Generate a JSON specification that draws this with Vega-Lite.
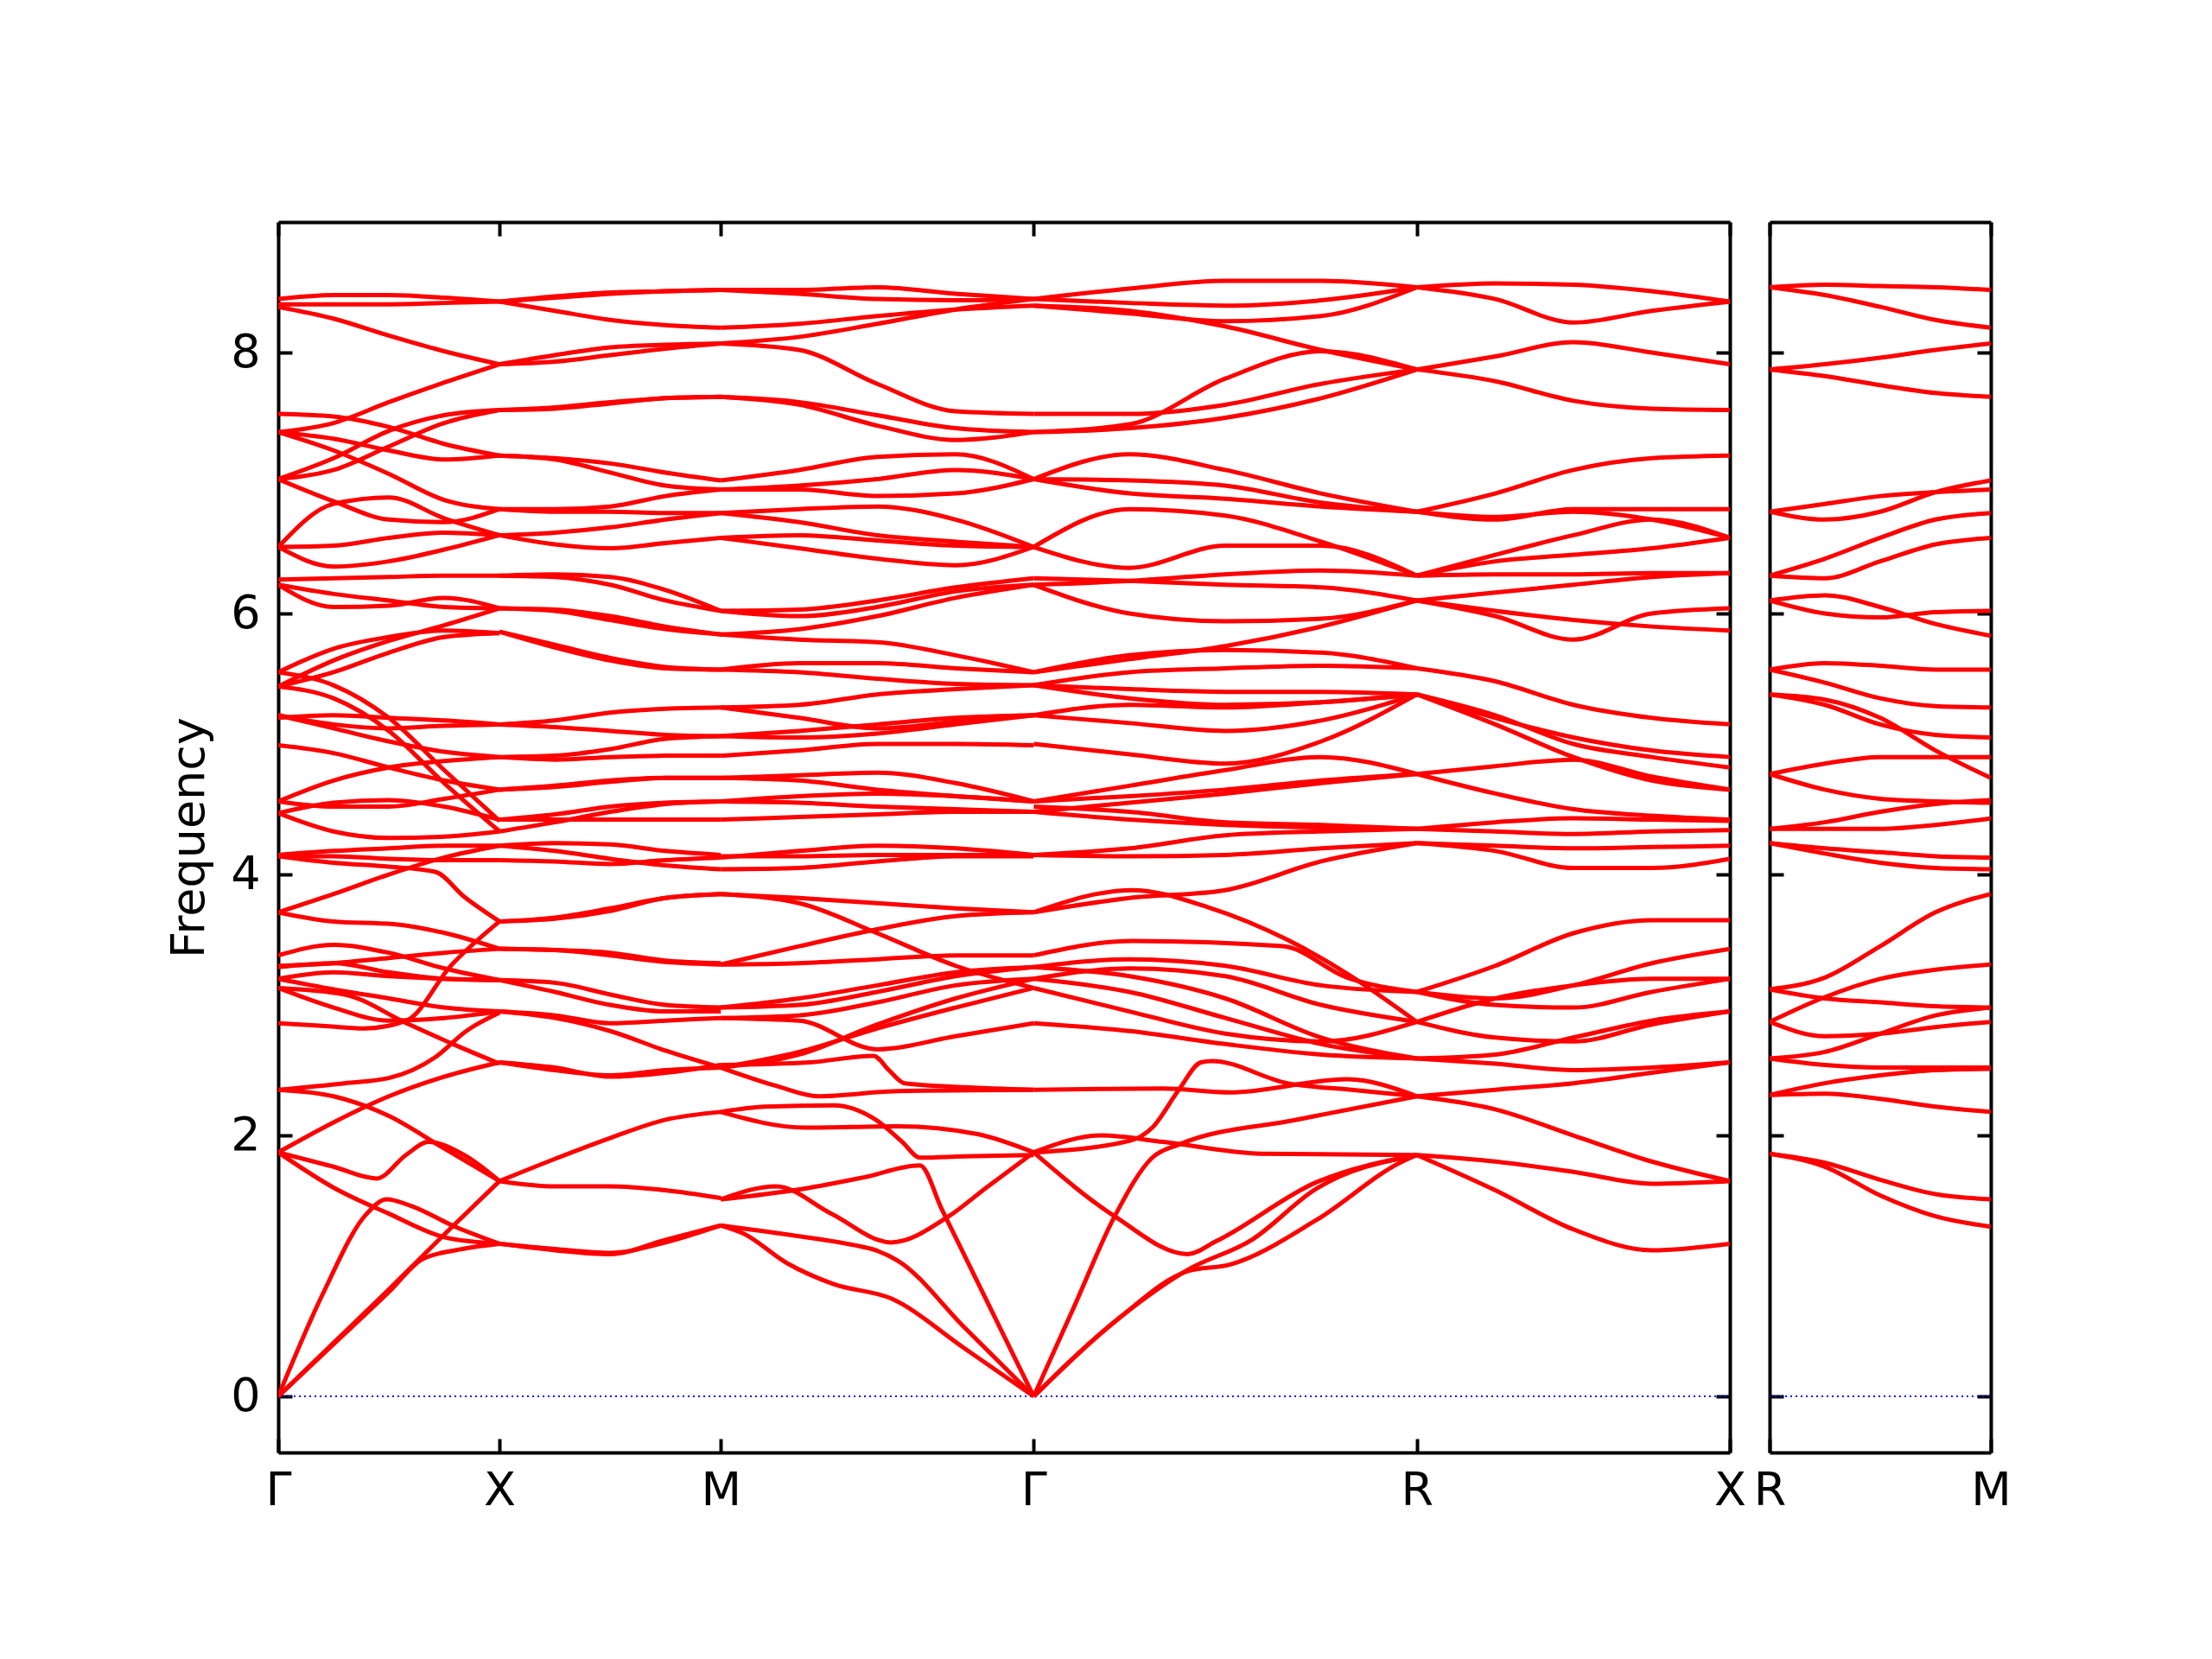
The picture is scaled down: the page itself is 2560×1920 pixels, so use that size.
{
"$schema":"https://vega.github.io/schema/vega-lite/v6.json",
"padding":{"left":192,"top":255,"right":10,"bottom":10},
"background":"white",
"bounds":"flush",
"spacing":46,
"config":{"font":"DejaVu Sans","view":{"stroke":null},
 "axis":{"grid":false,"domainColor":"black","domainWidth":4,"tickColor":"black","tickWidth":4,"tickSize":-16,"labelFontSize":54,"labelColor":"black","labelFont":"DejaVu Sans","labelFlush":false,"labelOverlap":false,"labelBound":false,"titleFont":"DejaVu Sans","titleFontSize":54,"titleFontWeight":"normal","titleColor":"black"}},
"datasets":{
"main":[
{"s":"A1","x":0,"y":8.41},{"s":"A1","x":0.25,"y":8.44},{"s":"A1","x":0.5,"y":8.44},{"s":"A1","x":0.75,"y":8.42},{"s":"A1","x":1,"y":8.39},
{"s":"A2","x":0,"y":8.37},{"s":"A2","x":0.25,"y":8.37},{"s":"A2","x":0.5,"y":8.37},{"s":"A2","x":0.75,"y":8.38},{"s":"A2","x":1,"y":8.39},
{"s":"A3","x":0,"y":8.35},{"s":"A3","x":0.25,"y":8.26},{"s":"A3","x":0.5,"y":8.13},{"s":"A3","x":0.75,"y":8.01},{"s":"A3","x":1,"y":7.91},
{"s":"A4","x":0,"y":7.53},{"s":"A4","x":0.25,"y":7.51},{"s":"A4","x":0.5,"y":7.43},{"s":"A4","x":0.75,"y":7.30},{"s":"A4","x":1,"y":7.21},
{"s":"A5","x":0,"y":7.39},{"s":"A5","x":0.25,"y":7.46},{"s":"A5","x":0.5,"y":7.62},{"s":"A5","x":0.75,"y":7.77},{"s":"A5","x":1,"y":7.91},
{"s":"A6","x":0,"y":7.39},{"s":"A6","x":0.25,"y":7.34},{"s":"A6","x":0.5,"y":7.25},{"s":"A6","x":0.75,"y":7.18},{"s":"A6","x":1,"y":7.21},
{"s":"A7","x":0,"y":7.03},{"s":"A7","x":0.25,"y":7.19},{"s":"A7","x":0.5,"y":7.40},{"s":"A7","x":0.75,"y":7.52},{"s":"A7","x":1,"y":7.56},
{"s":"A8","x":0,"y":7.03},{"s":"A8","x":0.25,"y":7.10},{"s":"A8","x":0.5,"y":7.28},{"s":"A8","x":0.75,"y":7.46},{"s":"A8","x":1,"y":7.56},
{"s":"A9","x":0,"y":7.39},{"s":"A9","x":0.25,"y":7.25},{"s":"A9","x":0.5,"y":7.07},{"s":"A9","x":0.75,"y":6.87},{"s":"A9","x":1,"y":6.80},
{"s":"A10","x":0,"y":7.03},{"s":"A10","x":0.25,"y":6.86},{"s":"A10","x":0.5,"y":6.72},{"s":"A10","x":0.75,"y":6.70},{"s":"A10","x":1,"y":6.80},
{"s":"A11","x":0,"y":6.51},{"s":"A11","x":0.25,"y":6.84},{"s":"A11","x":0.5,"y":6.89},{"s":"A11","x":0.75,"y":6.73},{"s":"A11","x":1,"y":6.60},
{"s":"A12","x":0,"y":6.51},{"s":"A12","x":0.25,"y":6.52},{"s":"A12","x":0.5,"y":6.58},{"s":"A12","x":0.75,"y":6.62},{"s":"A12","x":1,"y":6.60},
{"s":"A13","x":0,"y":6.51},{"s":"A13","x":0.25,"y":6.36},{"s":"A13","x":0.5,"y":6.40},{"s":"A13","x":0.75,"y":6.49},{"s":"A13","x":1,"y":6.60},
{"s":"A14","x":0,"y":6.26},{"s":"A14","x":0.25,"y":6.27},{"s":"A14","x":0.5,"y":6.28},{"s":"A14","x":0.75,"y":6.29},{"s":"A14","x":1,"y":6.29},
{"s":"A15","x":0,"y":6.22},{"s":"A15","x":0.25,"y":6.05},{"s":"A15","x":0.5,"y":6.06},{"s":"A15","x":0.75,"y":6.12},{"s":"A15","x":1,"y":6.04},
{"s":"A16","x":0,"y":6.22},{"s":"A16","x":0.25,"y":6.15},{"s":"A16","x":0.5,"y":6.10},{"s":"A16","x":0.75,"y":6.05},{"s":"A16","x":1,"y":6.04},
{"s":"A17","x":0,"y":5.55},{"s":"A17","x":0.25,"y":5.73},{"s":"A17","x":0.5,"y":5.82},{"s":"A17","x":0.75,"y":5.87},{"s":"A17","x":1,"y":5.85},
{"s":"A18","x":0,"y":5.44},{"s":"A18","x":0.25,"y":5.64},{"s":"A18","x":0.5,"y":5.79},{"s":"A18","x":0.75,"y":5.91},{"s":"A18","x":1,"y":6.04},
{"s":"A19","x":0,"y":5.44},{"s":"A19","x":0.25,"y":5.55},{"s":"A19","x":0.5,"y":5.70},{"s":"A19","x":0.75,"y":5.82},{"s":"A19","x":1,"y":5.85},
{"s":"A20","x":0,"y":5.55},{"s":"A20","x":0.25,"y":5.45},{"s":"A20","x":0.5,"y":5.20},{"s":"A20","x":0.75,"y":4.80},{"s":"A20","x":1,"y":4.41},
{"s":"A21","x":0,"y":5.44},{"s":"A21","x":0.25,"y":5.35},{"s":"A21","x":0.5,"y":5.10},{"s":"A21","x":0.75,"y":4.70},{"s":"A21","x":1,"y":4.33},
{"s":"A22","x":0,"y":5.20},{"s":"A22","x":0.25,"y":5.22},{"s":"A22","x":0.5,"y":5.20},{"s":"A22","x":0.75,"y":5.18},{"s":"A22","x":1,"y":5.15},
{"s":"A23","x":0,"y":5.22},{"s":"A23","x":0.25,"y":5.15},{"s":"A23","x":0.5,"y":5.12},{"s":"A23","x":0.75,"y":5.14},{"s":"A23","x":1,"y":5.15},
{"s":"A24","x":0,"y":5.22},{"s":"A24","x":0.25,"y":5.12},{"s":"A24","x":0.5,"y":5.02},{"s":"A24","x":0.75,"y":4.94},{"s":"A24","x":1,"y":4.90},
{"s":"A25","x":0,"y":4.99},{"s":"A25","x":0.25,"y":4.93},{"s":"A25","x":0.5,"y":4.82},{"s":"A25","x":0.75,"y":4.72},{"s":"A25","x":1,"y":4.65},
{"s":"A26","x":0,"y":4.56},{"s":"A26","x":0.25,"y":4.72},{"s":"A26","x":0.5,"y":4.82},{"s":"A26","x":0.75,"y":4.87},{"s":"A26","x":1,"y":4.90},
{"s":"A27","x":0,"y":4.56},{"s":"A27","x":0.25,"y":4.52},{"s":"A27","x":0.5,"y":4.52},{"s":"A27","x":0.75,"y":4.58},{"s":"A27","x":1,"y":4.65},
{"s":"A28","x":0,"y":4.47},{"s":"A28","x":0.25,"y":4.55},{"s":"A28","x":0.5,"y":4.57},{"s":"A28","x":0.75,"y":4.52},{"s":"A28","x":1,"y":4.42},
{"s":"A29","x":0,"y":4.47},{"s":"A29","x":0.25,"y":4.33},{"s":"A29","x":0.5,"y":4.28},{"s":"A29","x":0.75,"y":4.29},{"s":"A29","x":1,"y":4.33},
{"s":"A30","x":0,"y":4.15},{"s":"A30","x":0.25,"y":4.18},{"s":"A30","x":0.5,"y":4.20},{"s":"A30","x":0.75,"y":4.22},{"s":"A30","x":1,"y":4.22},
{"s":"A31","x":0,"y":4.14},{"s":"A31","x":0.25,"y":4.14},{"s":"A31","x":0.5,"y":4.12},{"s":"A31","x":0.75,"y":4.11},{"s":"A31","x":1,"y":4.11},
{"s":"A32","x":0,"y":4.14},{"s":"A32","x":0.25,"y":4.09},{"s":"A32","x":0.5,"y":4.06},{"s":"A32","x":0.71,"y":4.02},{"s":"A32","x":0.84,"y":3.83},{"s":"A32","x":1,"y":3.64},
{"s":"A33","x":0,"y":3.71},{"s":"A33","x":0.25,"y":3.85},{"s":"A33","x":0.5,"y":4.00},{"s":"A33","x":0.75,"y":4.13},{"s":"A33","x":1,"y":4.22},
{"s":"A34","x":0,"y":3.71},{"s":"A34","x":0.25,"y":3.64},{"s":"A34","x":0.52,"y":3.62},{"s":"A34","x":0.78,"y":3.54},{"s":"A34","x":1,"y":3.43},
{"s":"A35","x":0,"y":2.86},{"s":"A35","x":0.2,"y":2.84},{"s":"A35","x":0.39,"y":2.82},{"s":"A35","x":0.58,"y":2.88},{"s":"A35","x":0.78,"y":3.30},{"s":"A35","x":1,"y":3.64},
{"s":"A36","x":0,"y":3.38},{"s":"A36","x":0.25,"y":3.46},{"s":"A36","x":0.5,"y":3.40},{"s":"A36","x":0.75,"y":3.28},{"s":"A36","x":1,"y":3.19},
{"s":"A37","x":0,"y":3.29},{"s":"A37","x":0.25,"y":3.32},{"s":"A37","x":0.5,"y":3.25},{"s":"A37","x":0.75,"y":3.20},{"s":"A37","x":1,"y":3.19},
{"s":"A38","x":0,"y":3.20},{"s":"A38","x":0.25,"y":3.12},{"s":"A38","x":0.5,"y":3.05},{"s":"A38","x":0.75,"y":2.98},{"s":"A38","x":1,"y":2.95},
{"s":"A39","x":0,"y":3.13},{"s":"A39","x":0.25,"y":2.98},{"s":"A39","x":0.5,"y":2.88},{"s":"A39","x":0.75,"y":2.90},{"s":"A39","x":1,"y":2.95},
{"s":"A40","x":0,"y":3.20},{"s":"A40","x":0.25,"y":3.25},{"s":"A40","x":0.5,"y":3.22},{"s":"A40","x":0.75,"y":3.20},{"s":"A40","x":1,"y":3.19},
{"s":"A41","x":0,"y":3.30},{"s":"A41","x":0.25,"y":3.32},{"s":"A41","x":0.5,"y":3.36},{"s":"A41","x":0.75,"y":3.40},{"s":"A41","x":1,"y":3.43},
{"s":"A42","x":0,"y":2.35},{"s":"A42","x":0.3,"y":2.40},{"s":"A42","x":0.5,"y":2.44},{"s":"A42","x":0.71,"y":2.60},{"s":"A42","x":0.85,"y":2.80},{"s":"A42","x":1,"y":2.94},
{"s":"A43","x":0,"y":2.35},{"s":"A43","x":0.25,"y":2.30},{"s":"A43","x":0.5,"y":2.15},{"s":"A43","x":0.75,"y":1.90},{"s":"A43","x":1,"y":1.65},
{"s":"A44","x":0,"y":1.87},{"s":"A44","x":0.25,"y":2.10},{"s":"A44","x":0.5,"y":2.30},{"s":"A44","x":0.75,"y":2.45},{"s":"A44","x":1,"y":2.56},
{"s":"A45","x":0,"y":1.87},{"s":"A45","x":0.25,"y":1.76},{"s":"A45","x":0.445,"y":1.67},{"s":"A45","x":0.577,"y":1.85},{"s":"A45","x":0.68,"y":1.95},{"s":"A45","x":0.84,"y":1.85},{"s":"A45","x":1,"y":1.65},
{"s":"A46","x":0,"y":1.87},{"s":"A46","x":0.25,"y":1.60},{"s":"A46","x":0.5,"y":1.40},{"s":"A46","x":0.75,"y":1.22},{"s":"A46","x":1,"y":1.17},
{"s":"A47","x":0,"y":0},{"s":"A47","x":0.2,"y":0.78},{"s":"A47","x":0.4,"y":1.40},{"s":"A47","x":0.49,"y":1.51},{"s":"A47","x":0.6,"y":1.46},{"s":"A47","x":0.8,"y":1.30},{"s":"A47","x":1,"y":1.17},
{"s":"A48","x":0,"y":0},{"s":"A48","x":0.25,"y":0.41},{"s":"A48","x":0.5,"y":0.82},{"s":"A48","x":0.75,"y":1.24},{"s":"A48","x":1,"y":1.65},
{"s":"A49","x":0,"y":0},{"s":"A49","x":0.25,"y":0.40},{"s":"A49","x":0.5,"y":0.80},{"s":"A49","x":0.65,"y":1.05},{"s":"A49","x":0.8,"y":1.12},{"s":"A49","x":1,"y":1.17},
{"s":"A50","x":0,"y":3.13},{"s":"A50","x":0.3,"y":3.08},{"s":"A50","x":0.58,"y":2.86},{"s":"A50","x":0.79,"y":2.70},{"s":"A50","x":1,"y":2.55},
{"s":"B1","x":1,"y":8.39},{"s":"B1","x":1.25,"y":8.43},{"s":"B1","x":1.5,"y":8.46},{"s":"B1","x":1.75,"y":8.47},{"s":"B1","x":2,"y":8.48},
{"s":"B2","x":1,"y":8.39},{"s":"B2","x":1.25,"y":8.42},{"s":"B2","x":1.5,"y":8.45},{"s":"B2","x":1.75,"y":8.47},{"s":"B2","x":2,"y":8.48},
{"s":"B3","x":1,"y":8.39},{"s":"B3","x":1.25,"y":8.32},{"s":"B3","x":1.5,"y":8.25},{"s":"B3","x":1.75,"y":8.21},{"s":"B3","x":2,"y":8.19},
{"s":"B4","x":1,"y":7.91},{"s":"B4","x":1.25,"y":7.98},{"s":"B4","x":1.5,"y":8.04},{"s":"B4","x":1.75,"y":8.06},{"s":"B4","x":2,"y":8.07},
{"s":"B5","x":1,"y":7.91},{"s":"B5","x":1.25,"y":7.93},{"s":"B5","x":1.5,"y":7.98},{"s":"B5","x":1.75,"y":8.03},{"s":"B5","x":2,"y":8.07},
{"s":"B6","x":1,"y":7.56},{"s":"B6","x":1.25,"y":7.57},{"s":"B6","x":1.5,"y":7.61},{"s":"B6","x":1.75,"y":7.65},{"s":"B6","x":2,"y":7.66},
{"s":"B7","x":1,"y":7.56},{"s":"B7","x":1.25,"y":7.58},{"s":"B7","x":1.5,"y":7.62},{"s":"B7","x":1.75,"y":7.65},{"s":"B7","x":2,"y":7.66},
{"s":"B8","x":1,"y":7.21},{"s":"B8","x":1.25,"y":7.19},{"s":"B8","x":1.5,"y":7.15},{"s":"B8","x":1.75,"y":7.08},{"s":"B8","x":2,"y":7.02},
{"s":"B9","x":1,"y":7.21},{"s":"B9","x":1.25,"y":7.18},{"s":"B9","x":1.5,"y":7.08},{"s":"B9","x":1.75,"y":6.98},{"s":"B9","x":2,"y":6.95},
{"s":"B10","x":1,"y":6.80},{"s":"B10","x":1.25,"y":6.80},{"s":"B10","x":1.5,"y":6.82},{"s":"B10","x":1.75,"y":6.90},{"s":"B10","x":2,"y":6.95},
{"s":"B11","x":1,"y":6.80},{"s":"B11","x":1.25,"y":6.78},{"s":"B11","x":1.5,"y":6.78},{"s":"B11","x":1.75,"y":6.77},{"s":"B11","x":2,"y":6.77},
{"s":"B12","x":1,"y":6.60},{"s":"B12","x":1.25,"y":6.53},{"s":"B12","x":1.5,"y":6.50},{"s":"B12","x":1.75,"y":6.54},{"s":"B12","x":2,"y":6.58},
{"s":"B13","x":1,"y":6.60},{"s":"B13","x":1.25,"y":6.62},{"s":"B13","x":1.5,"y":6.66},{"s":"B13","x":1.75,"y":6.72},{"s":"B13","x":2,"y":6.77},
{"s":"B14","x":1,"y":6.29},{"s":"B14","x":1.25,"y":6.28},{"s":"B14","x":1.5,"y":6.22},{"s":"B14","x":1.75,"y":6.10},{"s":"B14","x":2,"y":6.02},
{"s":"B15","x":1,"y":6.29},{"s":"B15","x":1.25,"y":6.30},{"s":"B15","x":1.5,"y":6.28},{"s":"B15","x":1.75,"y":6.18},{"s":"B15","x":2,"y":6.02},
{"s":"B16","x":1,"y":6.04},{"s":"B16","x":1.25,"y":6.02},{"s":"B16","x":1.5,"y":5.95},{"s":"B16","x":1.75,"y":5.88},{"s":"B16","x":2,"y":5.84},
{"s":"B17","x":1,"y":6.04},{"s":"B17","x":1.25,"y":6.03},{"s":"B17","x":1.5,"y":5.98},{"s":"B17","x":1.75,"y":5.90},{"s":"B17","x":2,"y":5.84},
{"s":"B18","x":1,"y":5.86},{"s":"B18","x":1.25,"y":5.76},{"s":"B18","x":1.5,"y":5.66},{"s":"B18","x":1.75,"y":5.59},{"s":"B18","x":2,"y":5.57},
{"s":"B19","x":1,"y":5.86},{"s":"B19","x":1.25,"y":5.74},{"s":"B19","x":1.5,"y":5.64},{"s":"B19","x":1.75,"y":5.58},{"s":"B19","x":2,"y":5.57},
{"s":"B20","x":1,"y":5.15},{"s":"B20","x":1.25,"y":5.18},{"s":"B20","x":1.5,"y":5.24},{"s":"B20","x":1.75,"y":5.27},{"s":"B20","x":2,"y":5.28},
{"s":"B21","x":1,"y":5.15},{"s":"B21","x":1.25,"y":5.13},{"s":"B21","x":1.5,"y":5.10},{"s":"B21","x":1.75,"y":5.07},{"s":"B21","x":2,"y":5.06},
{"s":"B22","x":1,"y":4.90},{"s":"B22","x":1.25,"y":4.91},{"s":"B22","x":1.5,"y":4.96},{"s":"B22","x":1.75,"y":5.04},{"s":"B22","x":2,"y":5.06},
{"s":"B23","x":1,"y":4.90},{"s":"B23","x":1.25,"y":4.88},{"s":"B23","x":1.5,"y":4.90},{"s":"B23","x":1.75,"y":4.91},{"s":"B23","x":2,"y":4.91},
{"s":"B24","x":1,"y":4.65},{"s":"B24","x":1.25,"y":4.67},{"s":"B24","x":1.5,"y":4.71},{"s":"B24","x":1.75,"y":4.74},{"s":"B24","x":2,"y":4.74},
{"s":"B25","x":1,"y":4.65},{"s":"B25","x":1.25,"y":4.68},{"s":"B25","x":1.5,"y":4.72},{"s":"B25","x":1.75,"y":4.74},{"s":"B25","x":2,"y":4.74},
{"s":"B26","x":1,"y":4.42},{"s":"B26","x":1.25,"y":4.46},{"s":"B26","x":1.5,"y":4.52},{"s":"B26","x":1.75,"y":4.55},{"s":"B26","x":2,"y":4.56},
{"s":"B27","x":1,"y":4.33},{"s":"B27","x":1.25,"y":4.40},{"s":"B27","x":1.5,"y":4.48},{"s":"B27","x":1.75,"y":4.54},{"s":"B27","x":2,"y":4.56},
{"s":"B28","x":1,"y":4.42},{"s":"B28","x":1.25,"y":4.42},{"s":"B28","x":1.5,"y":4.42},{"s":"B28","x":1.75,"y":4.42},{"s":"B28","x":2,"y":4.42},
{"s":"B29","x":1,"y":4.22},{"s":"B29","x":1.25,"y":4.24},{"s":"B29","x":1.5,"y":4.23},{"s":"B29","x":1.75,"y":4.18},{"s":"B29","x":2,"y":4.15},
{"s":"B30","x":1,"y":4.11},{"s":"B30","x":1.25,"y":4.10},{"s":"B30","x":1.5,"y":4.08},{"s":"B30","x":1.75,"y":4.11},{"s":"B30","x":2,"y":4.13},
{"s":"B31","x":1,"y":4.22},{"s":"B31","x":1.25,"y":4.18},{"s":"B31","x":1.5,"y":4.12},{"s":"B31","x":1.75,"y":4.07},{"s":"B31","x":2,"y":4.04},
{"s":"B32","x":1,"y":3.64},{"s":"B32","x":1.25,"y":3.66},{"s":"B32","x":1.5,"y":3.72},{"s":"B32","x":1.75,"y":3.82},{"s":"B32","x":2,"y":3.85},
{"s":"B33","x":1,"y":3.64},{"s":"B33","x":1.25,"y":3.67},{"s":"B33","x":1.5,"y":3.74},{"s":"B33","x":1.75,"y":3.82},{"s":"B33","x":2,"y":3.85},
{"s":"B34","x":1,"y":3.43},{"s":"B34","x":1.25,"y":3.42},{"s":"B34","x":1.5,"y":3.40},{"s":"B34","x":1.75,"y":3.34},{"s":"B34","x":2,"y":3.32},
{"s":"B35","x":1,"y":3.43},{"s":"B35","x":1.25,"y":3.42},{"s":"B35","x":1.5,"y":3.38},{"s":"B35","x":1.75,"y":3.33},{"s":"B35","x":2,"y":3.31},
{"s":"B36","x":1,"y":3.19},{"s":"B36","x":1.25,"y":3.17},{"s":"B36","x":1.5,"y":3.08},{"s":"B36","x":1.75,"y":3.00},{"s":"B36","x":2,"y":2.98},
{"s":"B37","x":1,"y":3.19},{"s":"B37","x":1.25,"y":3.10},{"s":"B37","x":1.5,"y":3.00},{"s":"B37","x":1.75,"y":2.95},{"s":"B37","x":2,"y":2.95},
{"s":"B38","x":1,"y":2.95},{"s":"B38","x":1.25,"y":2.92},{"s":"B38","x":1.5,"y":2.86},{"s":"B38","x":1.75,"y":2.88},{"s":"B38","x":2,"y":2.90},
{"s":"B39","x":1,"y":2.95},{"s":"B39","x":1.25,"y":2.90},{"s":"B39","x":1.5,"y":2.80},{"s":"B39","x":1.75,"y":2.65},{"s":"B39","x":2,"y":2.52},
{"s":"B40","x":1,"y":2.56},{"s":"B40","x":1.25,"y":2.52},{"s":"B40","x":1.5,"y":2.45},{"s":"B40","x":1.75,"y":2.48},{"s":"B40","x":2,"y":2.54},
{"s":"B41","x":1,"y":2.56},{"s":"B41","x":1.25,"y":2.50},{"s":"B41","x":1.5,"y":2.46},{"s":"B41","x":1.75,"y":2.50},{"s":"B41","x":2,"y":2.52},
{"s":"B42","x":1,"y":1.65},{"s":"B42","x":1.25,"y":1.82},{"s":"B42","x":1.5,"y":1.98},{"s":"B42","x":1.75,"y":2.12},{"s":"B42","x":2,"y":2.18},
{"s":"B43","x":1,"y":1.65},{"s":"B43","x":1.25,"y":1.61},{"s":"B43","x":1.5,"y":1.61},{"s":"B43","x":1.75,"y":1.58},{"s":"B43","x":2,"y":1.52},
{"s":"B44","x":1,"y":1.17},{"s":"B44","x":1.25,"y":1.13},{"s":"B44","x":1.5,"y":1.10},{"s":"B44","x":1.75,"y":1.18},{"s":"B44","x":2,"y":1.31},
{"s":"B45","x":1,"y":1.17},{"s":"B45","x":1.25,"y":1.12},{"s":"B45","x":1.5,"y":1.09},{"s":"B45","x":1.75,"y":1.20},{"s":"B45","x":2,"y":1.31},
{"s":"C1","x":2,"y":8.48},{"s":"C1","x":2.354,"y":8.48},{"s":"C1","x":2.707,"y":8.50},{"s":"C1","x":3.061,"y":8.45},{"s":"C1","x":3.414,"y":8.41},
{"s":"C2","x":2,"y":8.48},{"s":"C2","x":2.354,"y":8.45},{"s":"C2","x":2.707,"y":8.41},{"s":"C2","x":3.061,"y":8.40},{"s":"C2","x":3.414,"y":8.41},
{"s":"C3","x":2,"y":8.19},{"s":"C3","x":2.354,"y":8.22},{"s":"C3","x":2.707,"y":8.28},{"s":"C3","x":3.061,"y":8.33},{"s":"C3","x":3.414,"y":8.36},
{"s":"C4","x":2,"y":8.07},{"s":"C4","x":2.354,"y":8.12},{"s":"C4","x":2.707,"y":8.22},{"s":"C4","x":3.061,"y":8.33},{"s":"C4","x":3.414,"y":8.41},
{"s":"C5","x":2,"y":8.07},{"s":"C5","x":2.354,"y":8.02},{"s":"C5","x":2.707,"y":7.76},{"s":"C5","x":3.061,"y":7.55},{"s":"C5","x":3.414,"y":7.53},
{"s":"C6","x":2,"y":7.66},{"s":"C6","x":2.354,"y":7.60},{"s":"C6","x":2.707,"y":7.44},{"s":"C6","x":3.061,"y":7.33},{"s":"C6","x":3.414,"y":7.39},
{"s":"C7","x":2,"y":7.66},{"s":"C7","x":2.354,"y":7.62},{"s":"C7","x":2.707,"y":7.52},{"s":"C7","x":3.061,"y":7.42},{"s":"C7","x":3.414,"y":7.39},
{"s":"C8","x":2,"y":7.02},{"s":"C8","x":2.354,"y":7.10},{"s":"C8","x":2.707,"y":7.20},{"s":"C8","x":3.061,"y":7.22},{"s":"C8","x":3.414,"y":7.03},
{"s":"C9","x":2,"y":6.95},{"s":"C9","x":2.354,"y":6.98},{"s":"C9","x":2.707,"y":7.03},{"s":"C9","x":3.061,"y":7.10},{"s":"C9","x":3.414,"y":7.03},
{"s":"C10","x":2,"y":6.95},{"s":"C10","x":2.354,"y":6.95},{"s":"C10","x":2.707,"y":6.90},{"s":"C10","x":3.061,"y":6.92},{"s":"C10","x":3.414,"y":7.03},
{"s":"C11","x":2,"y":6.77},{"s":"C11","x":2.354,"y":6.80},{"s":"C11","x":2.707,"y":6.82},{"s":"C11","x":3.061,"y":6.72},{"s":"C11","x":3.414,"y":6.51},
{"s":"C12","x":2,"y":6.58},{"s":"C12","x":2.354,"y":6.50},{"s":"C12","x":2.707,"y":6.42},{"s":"C12","x":3.061,"y":6.37},{"s":"C12","x":3.414,"y":6.51},
{"s":"C13","x":2,"y":6.58},{"s":"C13","x":2.354,"y":6.60},{"s":"C13","x":2.707,"y":6.56},{"s":"C13","x":3.061,"y":6.52},{"s":"C13","x":3.414,"y":6.51},
{"s":"C14","x":2,"y":6.77},{"s":"C14","x":2.354,"y":6.70},{"s":"C14","x":2.707,"y":6.60},{"s":"C14","x":3.061,"y":6.55},{"s":"C14","x":3.414,"y":6.51},
{"s":"C15","x":2,"y":6.02},{"s":"C15","x":2.354,"y":6.03},{"s":"C15","x":2.707,"y":6.10},{"s":"C15","x":3.061,"y":6.20},{"s":"C15","x":3.414,"y":6.27},
{"s":"C16","x":2,"y":6.02},{"s":"C16","x":2.354,"y":5.98},{"s":"C16","x":2.707,"y":6.05},{"s":"C16","x":3.061,"y":6.17},{"s":"C16","x":3.414,"y":6.22},
{"s":"C17","x":2,"y":5.84},{"s":"C17","x":2.354,"y":5.88},{"s":"C17","x":2.707,"y":5.98},{"s":"C17","x":3.061,"y":6.12},{"s":"C17","x":3.414,"y":6.22},
{"s":"C17b","x":2,"y":5.84},{"s":"C17b","x":2.354,"y":5.80},{"s":"C17b","x":2.707,"y":5.78},{"s":"C17b","x":3.061,"y":5.68},{"s":"C17b","x":3.414,"y":5.55},
{"s":"C18","x":2,"y":5.57},{"s":"C18","x":2.354,"y":5.62},{"s":"C18","x":2.707,"y":5.62},{"s":"C18","x":3.061,"y":5.58},{"s":"C18","x":3.414,"y":5.55},
{"s":"C19","x":2,"y":5.57},{"s":"C19","x":2.354,"y":5.55},{"s":"C19","x":2.707,"y":5.50},{"s":"C19","x":3.061,"y":5.46},{"s":"C19","x":3.414,"y":5.45},
{"s":"C20","x":2,"y":5.28},{"s":"C20","x":2.354,"y":5.30},{"s":"C20","x":2.707,"y":5.38},{"s":"C20","x":3.061,"y":5.42},{"s":"C20","x":3.414,"y":5.45},
{"s":"C21","x":2,"y":5.28},{"s":"C21","x":2.354,"y":5.20},{"s":"C21","x":2.707,"y":5.12},{"s":"C21","x":3.061,"y":5.17},{"s":"C21","x":3.414,"y":5.22},
{"s":"C22","x":2,"y":5.06},{"s":"C22","x":2.354,"y":5.10},{"s":"C22","x":2.707,"y":5.15},{"s":"C22","x":3.061,"y":5.20},{"s":"C22","x":3.414,"y":5.22},
{"s":"C23","x":2,"y":5.06},{"s":"C23","x":2.354,"y":5.05},{"s":"C23","x":2.707,"y":5.08},{"s":"C23","x":3.061,"y":5.15},{"s":"C23","x":3.414,"y":5.22},
{"s":"C24","x":2,"y":4.91},{"s":"C24","x":2.354,"y":4.95},{"s":"C24","x":2.707,"y":5.00},{"s":"C24","x":3.061,"y":5.00},{"s":"C24","x":3.414,"y":4.99},
{"s":"C25","x":2,"y":4.74},{"s":"C25","x":2.354,"y":4.76},{"s":"C25","x":2.707,"y":4.78},{"s":"C25","x":3.061,"y":4.70},{"s":"C25","x":3.414,"y":4.56},
{"s":"C26","x":2,"y":4.74},{"s":"C26","x":2.354,"y":4.72},{"s":"C26","x":2.707,"y":4.65},{"s":"C26","x":3.061,"y":4.60},{"s":"C26","x":3.414,"y":4.56},
{"s":"C27","x":2,"y":4.56},{"s":"C27","x":2.354,"y":4.60},{"s":"C27","x":2.707,"y":4.62},{"s":"C27","x":3.061,"y":4.60},{"s":"C27","x":3.414,"y":4.56},
{"s":"C28","x":2,"y":4.56},{"s":"C28","x":2.354,"y":4.55},{"s":"C28","x":2.707,"y":4.52},{"s":"C28","x":3.061,"y":4.50},{"s":"C28","x":3.414,"y":4.48},
{"s":"C29","x":2,"y":4.42},{"s":"C29","x":2.354,"y":4.44},{"s":"C29","x":2.707,"y":4.46},{"s":"C29","x":3.061,"y":4.48},{"s":"C29","x":3.414,"y":4.48},
{"s":"C30","x":2,"y":4.14},{"s":"C30","x":2.354,"y":4.14},{"s":"C30","x":2.707,"y":4.15},{"s":"C30","x":3.061,"y":4.15},{"s":"C30","x":3.414,"y":4.15},
{"s":"C31","x":2,"y":4.13},{"s":"C31","x":2.354,"y":4.18},{"s":"C31","x":2.707,"y":4.22},{"s":"C31","x":3.061,"y":4.20},{"s":"C31","x":3.414,"y":4.15},
{"s":"C32","x":2,"y":4.04},{"s":"C32","x":2.354,"y":4.05},{"s":"C32","x":2.707,"y":4.10},{"s":"C32","x":3.061,"y":4.14},{"s":"C32","x":3.414,"y":4.14},
{"s":"C33","x":2,"y":3.85},{"s":"C33","x":2.354,"y":3.78},{"s":"C33","x":2.707,"y":3.55},{"s":"C33","x":3.061,"y":3.30},{"s":"C33","x":3.414,"y":3.13},
{"s":"C34","x":2,"y":3.85},{"s":"C34","x":2.354,"y":3.82},{"s":"C34","x":2.707,"y":3.78},{"s":"C34","x":3.061,"y":3.74},{"s":"C34","x":3.414,"y":3.71},
{"s":"C35","x":2,"y":3.31},{"s":"C35","x":2.354,"y":3.45},{"s":"C35","x":2.707,"y":3.58},{"s":"C35","x":3.061,"y":3.68},{"s":"C35","x":3.414,"y":3.71},
{"s":"C36","x":2,"y":3.31},{"s":"C36","x":2.354,"y":3.32},{"s":"C36","x":2.707,"y":3.35},{"s":"C36","x":3.061,"y":3.38},{"s":"C36","x":3.414,"y":3.38},
{"s":"C37","x":2,"y":2.98},{"s":"C37","x":2.354,"y":3.00},{"s":"C37","x":2.707,"y":3.10},{"s":"C37","x":3.061,"y":3.22},{"s":"C37","x":3.414,"y":3.29},
{"s":"C38","x":2,"y":2.98},{"s":"C38","x":2.354,"y":3.05},{"s":"C38","x":2.707,"y":3.15},{"s":"C38","x":3.061,"y":3.25},{"s":"C38","x":3.414,"y":3.29},
{"s":"C39","x":2,"y":2.90},{"s":"C39","x":2.354,"y":2.92},{"s":"C39","x":2.707,"y":3.02},{"s":"C39","x":3.061,"y":3.15},{"s":"C39","x":3.414,"y":3.20},
{"s":"C40","x":2,"y":2.90},{"s":"C40","x":2.354,"y":2.88},{"s":"C40","x":2.707,"y":2.66},{"s":"C40","x":3.061,"y":2.76},{"s":"C40","x":3.414,"y":2.86},
{"s":"C41","x":2,"y":2.52},{"s":"C41","x":2.354,"y":2.64},{"s":"C41","x":2.707,"y":2.82},{"s":"C41","x":3.061,"y":2.98},{"s":"C41","x":3.414,"y":3.13},
{"s":"C42","x":2,"y":2.52},{"s":"C42","x":2.354,"y":2.62},{"s":"C42","x":2.707,"y":2.85},{"s":"C42","x":3.061,"y":3.05},{"s":"C42","x":3.414,"y":3.20},
{"s":"C43","x":2,"y":2.54},{"s":"C43","x":2.4,"y":2.56},{"s":"C43","x":2.69,"y":2.61},{"s":"C43","x":2.76,"y":2.50},{"s":"C43","x":2.83,"y":2.40},{"s":"C43","x":3.1,"y":2.37},{"s":"C43","x":3.414,"y":2.35},
{"s":"C43b","x":2,"y":2.52},{"s":"C43b","x":2.25,"y":2.38},{"s":"C43b","x":2.44,"y":2.30},{"s":"C43b","x":2.8,"y":2.34},{"s":"C43b","x":3.414,"y":2.35},
{"s":"C44","x":2,"y":2.18},{"s":"C44","x":2.38,"y":2.06},{"s":"C44","x":2.8,"y":2.07},{"s":"C44","x":3.16,"y":2.01},{"s":"C44","x":3.414,"y":1.87},
{"s":"C45","x":2,"y":2.18},{"s":"C45","x":2.2,"y":2.22},{"s":"C45","x":2.51,"y":2.23},{"s":"C45","x":2.7,"y":2.12},{"s":"C45","x":2.82,"y":1.95},{"s":"C45","x":2.9,"y":1.83},{"s":"C45","x":3.1,"y":1.84},{"s":"C45","x":3.414,"y":1.85},
{"s":"C46","x":2,"y":1.51},{"s":"C46","x":2.37,"y":1.59},{"s":"C46","x":2.65,"y":1.68},{"s":"C46","x":2.9,"y":1.77},{"s":"C46","x":3.0,"y":1.43},{"s":"C46","x":3.414,"y":0},
{"s":"C47","x":2,"y":1.51},{"s":"C47","x":2.25,"y":1.61},{"s":"C47","x":2.5,"y":1.40},{"s":"C47","x":2.77,"y":1.18},{"s":"C47","x":3.03,"y":1.38},{"s":"C47","x":3.2,"y":1.60},{"s":"C47","x":3.414,"y":1.87},
{"s":"C48","x":2,"y":1.31},{"s":"C48","x":2.3,"y":1.24},{"s":"C48","x":2.6,"y":1.16},{"s":"C48","x":2.7,"y":1.12},{"s":"C48","x":2.8,"y":1.04},{"s":"C48","x":3.1,"y":0.53},{"s":"C48","x":3.414,"y":0},
{"s":"C49","x":2,"y":1.31},{"s":"C49","x":2.1,"y":1.25},{"s":"C49","x":2.3,"y":1.02},{"s":"C49","x":2.51,"y":0.86},{"s":"C49","x":2.77,"y":0.75},{"s":"C49","x":3.1,"y":0.37},{"s":"C49","x":3.414,"y":0},
{"s":"D1","x":3.414,"y":8.41},{"s":"D1","x":3.847,"y":8.49},{"s":"D1","x":4.28,"y":8.55},{"s":"D1","x":4.713,"y":8.55},{"s":"D1","x":5.146,"y":8.50},
{"s":"D2","x":3.414,"y":8.41},{"s":"D2","x":3.847,"y":8.38},{"s":"D2","x":4.28,"y":8.36},{"s":"D2","x":4.713,"y":8.40},{"s":"D2","x":5.146,"y":8.50},
{"s":"D3","x":3.414,"y":8.36},{"s":"D3","x":3.847,"y":8.30},{"s":"D3","x":4.28,"y":8.24},{"s":"D3","x":4.713,"y":8.28},{"s":"D3","x":5.146,"y":8.50},
{"s":"D4","x":3.414,"y":8.36},{"s":"D4","x":3.847,"y":8.32},{"s":"D4","x":4.28,"y":8.20},{"s":"D4","x":4.713,"y":8.02},{"s":"D4","x":5.146,"y":7.87},
{"s":"D5","x":3.414,"y":7.53},{"s":"D5","x":3.847,"y":7.53},{"s":"D5","x":4.28,"y":7.60},{"s":"D5","x":4.713,"y":7.76},{"s":"D5","x":5.146,"y":7.87},
{"s":"D6","x":3.414,"y":7.39},{"s":"D6","x":3.847,"y":7.45},{"s":"D6","x":4.28,"y":7.80},{"s":"D6","x":4.713,"y":8.01},{"s":"D6","x":5.146,"y":7.87},
{"s":"D7","x":3.414,"y":7.39},{"s":"D7","x":3.847,"y":7.42},{"s":"D7","x":4.28,"y":7.50},{"s":"D7","x":4.713,"y":7.65},{"s":"D7","x":5.146,"y":7.87},
{"s":"D8","x":3.414,"y":7.03},{"s":"D8","x":3.847,"y":7.22},{"s":"D8","x":4.28,"y":7.10},{"s":"D8","x":4.713,"y":6.92},{"s":"D8","x":5.146,"y":6.78},
{"s":"D9","x":3.414,"y":7.03},{"s":"D9","x":3.847,"y":7.02},{"s":"D9","x":4.28,"y":6.98},{"s":"D9","x":4.713,"y":6.85},{"s":"D9","x":5.146,"y":6.78},
{"s":"D10","x":3.414,"y":7.03},{"s":"D10","x":3.847,"y":6.92},{"s":"D10","x":4.28,"y":6.88},{"s":"D10","x":4.713,"y":6.82},{"s":"D10","x":5.146,"y":6.78},
{"s":"D11","x":3.414,"y":6.51},{"s":"D11","x":3.847,"y":6.80},{"s":"D11","x":4.28,"y":6.75},{"s":"D11","x":4.713,"y":6.55},{"s":"D11","x":5.146,"y":6.29},
{"s":"D12","x":3.414,"y":6.51},{"s":"D12","x":3.847,"y":6.35},{"s":"D12","x":4.28,"y":6.52},{"s":"D12","x":4.713,"y":6.52},{"s":"D12","x":5.146,"y":6.29},
{"s":"D13","x":3.414,"y":6.27},{"s":"D13","x":3.847,"y":6.25},{"s":"D13","x":4.28,"y":6.22},{"s":"D13","x":4.713,"y":6.20},{"s":"D13","x":5.146,"y":6.10},
{"s":"D14","x":3.414,"y":6.22},{"s":"D14","x":3.847,"y":6.25},{"s":"D14","x":4.28,"y":6.30},{"s":"D14","x":4.713,"y":6.33},{"s":"D14","x":5.146,"y":6.29},
{"s":"D15","x":3.414,"y":6.22},{"s":"D15","x":3.847,"y":6.00},{"s":"D15","x":4.28,"y":5.94},{"s":"D15","x":4.713,"y":5.96},{"s":"D15","x":5.146,"y":6.10},
{"s":"D16","x":3.414,"y":5.55},{"s":"D16","x":3.847,"y":5.68},{"s":"D16","x":4.28,"y":5.72},{"s":"D16","x":4.713,"y":5.70},{"s":"D16","x":5.146,"y":5.58},
{"s":"D17","x":3.414,"y":5.55},{"s":"D17","x":3.847,"y":5.65},{"s":"D17","x":4.28,"y":5.75},{"s":"D17","x":4.713,"y":5.90},{"s":"D17","x":5.146,"y":6.10},
{"s":"D18","x":3.414,"y":5.45},{"s":"D18","x":3.847,"y":5.55},{"s":"D18","x":4.28,"y":5.58},{"s":"D18","x":4.713,"y":5.60},{"s":"D18","x":5.146,"y":5.58},
{"s":"D19","x":3.414,"y":5.45},{"s":"D19","x":3.847,"y":5.42},{"s":"D19","x":4.28,"y":5.40},{"s":"D19","x":4.713,"y":5.40},{"s":"D19","x":5.146,"y":5.38},
{"s":"D20","x":3.414,"y":5.45},{"s":"D20","x":3.847,"y":5.35},{"s":"D20","x":4.28,"y":5.30},{"s":"D20","x":4.713,"y":5.32},{"s":"D20","x":5.146,"y":5.38},
{"s":"D21","x":3.414,"y":5.22},{"s":"D21","x":3.847,"y":5.30},{"s":"D21","x":4.28,"y":5.28},{"s":"D21","x":4.713,"y":5.32},{"s":"D21","x":5.146,"y":5.38},
{"s":"D22","x":3.414,"y":5.22},{"s":"D22","x":3.847,"y":5.16},{"s":"D22","x":4.28,"y":5.10},{"s":"D22","x":4.713,"y":5.18},{"s":"D22","x":5.146,"y":5.38},
{"s":"D23","x":3.414,"y":5.00},{"s":"D23","x":3.847,"y":4.92},{"s":"D23","x":4.28,"y":4.85},{"s":"D23","x":4.713,"y":5.02},{"s":"D23","x":5.146,"y":5.38},
{"s":"D24","x":3.414,"y":4.56},{"s":"D24","x":3.847,"y":4.68},{"s":"D24","x":4.28,"y":4.80},{"s":"D24","x":4.713,"y":4.90},{"s":"D24","x":5.146,"y":4.77},
{"s":"D25","x":3.414,"y":4.56},{"s":"D25","x":3.847,"y":4.60},{"s":"D25","x":4.28,"y":4.65},{"s":"D25","x":4.713,"y":4.72},{"s":"D25","x":5.146,"y":4.77},
{"s":"D26","x":3.414,"y":4.48},{"s":"D26","x":3.847,"y":4.55},{"s":"D26","x":4.28,"y":4.62},{"s":"D26","x":4.713,"y":4.70},{"s":"D26","x":5.146,"y":4.77},
{"s":"D27","x":3.414,"y":4.52},{"s":"D27","x":3.847,"y":4.48},{"s":"D27","x":4.28,"y":4.40},{"s":"D27","x":4.713,"y":4.38},{"s":"D27","x":5.146,"y":4.35},
{"s":"D28","x":3.414,"y":4.48},{"s":"D28","x":3.847,"y":4.42},{"s":"D28","x":4.28,"y":4.38},{"s":"D28","x":4.713,"y":4.36},{"s":"D28","x":5.146,"y":4.35},
{"s":"D29","x":3.414,"y":4.15},{"s":"D29","x":3.847,"y":4.20},{"s":"D29","x":4.28,"y":4.30},{"s":"D29","x":4.713,"y":4.33},{"s":"D29","x":5.146,"y":4.35},
{"s":"D30","x":3.414,"y":4.15},{"s":"D30","x":3.847,"y":4.14},{"s":"D30","x":4.28,"y":4.15},{"s":"D30","x":4.713,"y":4.20},{"s":"D30","x":5.146,"y":4.24},
{"s":"D31","x":3.414,"y":3.71},{"s":"D31","x":3.847,"y":3.82},{"s":"D31","x":4.28,"y":3.88},{"s":"D31","x":4.713,"y":4.10},{"s":"D31","x":5.146,"y":4.24},
{"s":"D32","x":3.414,"y":3.71},{"s":"D32","x":3.86,"y":3.88},{"s":"D32","x":4.2,"y":3.75},{"s":"D32","x":4.56,"y":3.50},{"s":"D32","x":4.83,"y":3.24},{"s":"D32","x":5.146,"y":2.87},
{"s":"D33","x":3.414,"y":3.38},{"s":"D33","x":3.86,"y":3.49},{"s":"D33","x":4.54,"y":3.45},{"s":"D33","x":4.83,"y":3.21},{"s":"D33","x":5.146,"y":3.10},
{"s":"D34","x":3.414,"y":3.29},{"s":"D34","x":3.847,"y":3.35},{"s":"D34","x":4.28,"y":3.30},{"s":"D34","x":4.713,"y":3.15},{"s":"D34","x":5.146,"y":3.10},
{"s":"D35","x":3.414,"y":3.20},{"s":"D35","x":3.847,"y":3.28},{"s":"D35","x":4.28,"y":3.22},{"s":"D35","x":4.713,"y":3.00},{"s":"D35","x":5.146,"y":2.87},
{"s":"D36","x":3.414,"y":3.29},{"s":"D36","x":3.847,"y":3.22},{"s":"D36","x":4.28,"y":3.05},{"s":"D36","x":4.713,"y":2.75},{"s":"D36","x":5.146,"y":2.59},
{"s":"D37","x":3.414,"y":3.20},{"s":"D37","x":3.847,"y":3.10},{"s":"D37","x":4.28,"y":2.90},{"s":"D37","x":4.713,"y":2.70},{"s":"D37","x":5.146,"y":2.59},
{"s":"D38","x":3.414,"y":3.13},{"s":"D38","x":3.847,"y":2.95},{"s":"D38","x":4.28,"y":2.78},{"s":"D38","x":4.713,"y":2.72},{"s":"D38","x":5.146,"y":2.87},
{"s":"D39","x":3.414,"y":2.86},{"s":"D39","x":3.847,"y":2.80},{"s":"D39","x":4.28,"y":2.70},{"s":"D39","x":4.713,"y":2.62},{"s":"D39","x":5.146,"y":2.59},
{"s":"D40","x":3.414,"y":2.35},{"s":"D40","x":4.0,"y":2.36},{"s":"D40","x":4.3,"y":2.33},{"s":"D40","x":4.83,"y":2.43},{"s":"D40","x":5.146,"y":2.30},
{"s":"D41","x":3.414,"y":0},{"s":"D41","x":3.6,"y":0.70},{"s":"D41","x":3.78,"y":1.38},{"s":"D41","x":3.95,"y":1.83},{"s":"D41","x":4.07,"y":1.93},{"s":"D41","x":4.6,"y":2.12},{"s":"D41","x":5.146,"y":2.30},
{"s":"D42","x":3.414,"y":1.87},{"s":"D42","x":3.85,"y":1.96},{"s":"D42","x":3.95,"y":2.06},{"s":"D42","x":4.07,"y":2.35},{"s":"D42","x":4.17,"y":2.56},{"s":"D42","x":4.22,"y":2.57},{"s":"D42","x":4.56,"y":2.40},{"s":"D42","x":4.85,"y":2.35},{"s":"D42","x":5.146,"y":2.30},
{"s":"D43","x":3.414,"y":1.87},{"s":"D43","x":3.72,"y":2.00},{"s":"D43","x":4.0,"y":1.95},{"s":"D43","x":4.44,"y":1.86},{"s":"D43","x":5.146,"y":1.85},
{"s":"D44","x":3.414,"y":1.87},{"s":"D44","x":3.78,"y":1.38},{"s":"D44","x":4.11,"y":1.09},{"s":"D44","x":4.24,"y":1.19},{"s":"D44","x":4.69,"y":1.64},{"s":"D44","x":5.146,"y":1.85},
{"s":"D45","x":3.414,"y":0},{"s":"D45","x":3.8,"y":0.60},{"s":"D45","x":4.11,"y":0.96},{"s":"D45","x":4.30,"y":1.01},{"s":"D45","x":4.69,"y":1.35},{"s":"D45","x":5.08,"y":1.80},{"s":"D45","x":5.146,"y":1.85},
{"s":"D46","x":3.414,"y":0},{"s":"D46","x":3.8,"y":0.60},{"s":"D46","x":4.11,"y":0.97},{"s":"D46","x":4.4,"y":1.20},{"s":"D46","x":4.69,"y":1.59},{"s":"D46","x":5.146,"y":1.85},
{"s":"E1","x":5.146,"y":8.50},{"s":"E1","x":5.5,"y":8.53},{"s":"E1","x":5.853,"y":8.52},{"s":"E1","x":6.207,"y":8.47},{"s":"E1","x":6.56,"y":8.39},
{"s":"E2","x":5.146,"y":8.50},{"s":"E2","x":5.5,"y":8.41},{"s":"E2","x":5.853,"y":8.23},{"s":"E2","x":6.207,"y":8.32},{"s":"E2","x":6.56,"y":8.39},
{"s":"E4","x":5.146,"y":7.87},{"s":"E4","x":5.5,"y":7.97},{"s":"E4","x":5.853,"y":8.08},{"s":"E4","x":6.207,"y":8.00},{"s":"E4","x":6.56,"y":7.91},
{"s":"E5","x":5.146,"y":7.87},{"s":"E5","x":5.5,"y":7.78},{"s":"E5","x":5.853,"y":7.63},{"s":"E5","x":6.207,"y":7.57},{"s":"E5","x":6.56,"y":7.56},
{"s":"E7","x":5.146,"y":6.78},{"s":"E7","x":5.5,"y":6.92},{"s":"E7","x":5.853,"y":7.10},{"s":"E7","x":6.207,"y":7.19},{"s":"E7","x":6.56,"y":7.21},
{"s":"E8","x":5.146,"y":6.78},{"s":"E8","x":5.5,"y":6.72},{"s":"E8","x":5.853,"y":6.80},{"s":"E8","x":6.207,"y":6.80},{"s":"E8","x":6.56,"y":6.80},
{"s":"E9","x":5.146,"y":6.78},{"s":"E9","x":5.5,"y":6.74},{"s":"E9","x":5.853,"y":6.78},{"s":"E9","x":6.207,"y":6.72},{"s":"E9","x":6.56,"y":6.58},
{"s":"E10","x":5.146,"y":6.29},{"s":"E10","x":5.5,"y":6.45},{"s":"E10","x":5.853,"y":6.60},{"s":"E10","x":6.207,"y":6.72},{"s":"E10","x":6.56,"y":6.58},
{"s":"E11","x":5.146,"y":6.29},{"s":"E11","x":5.5,"y":6.40},{"s":"E11","x":5.853,"y":6.45},{"s":"E11","x":6.207,"y":6.50},{"s":"E11","x":6.56,"y":6.58},
{"s":"E12","x":5.146,"y":6.29},{"s":"E12","x":5.5,"y":6.30},{"s":"E12","x":5.853,"y":6.30},{"s":"E12","x":6.207,"y":6.31},{"s":"E12","x":6.56,"y":6.31},
{"s":"E13","x":5.146,"y":6.10},{"s":"E13","x":5.5,"y":6.16},{"s":"E13","x":5.853,"y":6.22},{"s":"E13","x":6.207,"y":6.28},{"s":"E13","x":6.56,"y":6.31},
{"s":"E14","x":5.146,"y":6.10},{"s":"E14","x":5.5,"y":5.98},{"s":"E14","x":5.853,"y":5.80},{"s":"E14","x":6.207,"y":6.00},{"s":"E14","x":6.56,"y":6.04},
{"s":"E15","x":5.146,"y":6.10},{"s":"E15","x":5.5,"y":6.02},{"s":"E15","x":5.853,"y":5.95},{"s":"E15","x":6.207,"y":5.90},{"s":"E15","x":6.56,"y":5.87},
{"s":"E16","x":5.146,"y":5.58},{"s":"E16","x":5.5,"y":5.48},{"s":"E16","x":5.853,"y":5.30},{"s":"E16","x":6.207,"y":5.20},{"s":"E16","x":6.56,"y":5.15},
{"s":"E17","x":5.146,"y":5.38},{"s":"E17","x":5.5,"y":5.20},{"s":"E17","x":5.853,"y":5.05},{"s":"E17","x":6.207,"y":4.95},{"s":"E17","x":6.56,"y":4.90},
{"s":"E18","x":5.146,"y":5.38},{"s":"E18","x":5.5,"y":5.22},{"s":"E18","x":5.853,"y":5.00},{"s":"E18","x":6.207,"y":4.90},{"s":"E18","x":6.56,"y":4.82},
{"s":"E19","x":5.146,"y":5.38},{"s":"E19","x":5.5,"y":5.15},{"s":"E19","x":5.853,"y":4.90},{"s":"E19","x":6.207,"y":4.72},{"s":"E19","x":6.56,"y":4.65},
{"s":"E20","x":5.146,"y":4.77},{"s":"E20","x":5.5,"y":4.83},{"s":"E20","x":5.853,"y":4.88},{"s":"E20","x":6.207,"y":4.75},{"s":"E20","x":6.56,"y":4.65},
{"s":"E21","x":5.146,"y":4.77},{"s":"E21","x":5.5,"y":4.62},{"s":"E21","x":5.853,"y":4.50},{"s":"E21","x":6.207,"y":4.45},{"s":"E21","x":6.56,"y":4.42},
{"s":"E22","x":5.146,"y":4.35},{"s":"E22","x":5.5,"y":4.40},{"s":"E22","x":5.853,"y":4.43},{"s":"E22","x":6.207,"y":4.42},{"s":"E22","x":6.56,"y":4.41},
{"s":"E23","x":5.146,"y":4.35},{"s":"E23","x":5.5,"y":4.33},{"s":"E23","x":5.853,"y":4.31},{"s":"E23","x":6.207,"y":4.33},{"s":"E23","x":6.56,"y":4.34},
{"s":"E24","x":5.146,"y":4.24},{"s":"E24","x":5.5,"y":4.18},{"s":"E24","x":5.853,"y":4.05},{"s":"E24","x":6.207,"y":4.05},{"s":"E24","x":6.56,"y":4.12},
{"s":"E25","x":5.146,"y":4.24},{"s":"E25","x":5.5,"y":4.22},{"s":"E25","x":5.853,"y":4.20},{"s":"E25","x":6.207,"y":4.21},{"s":"E25","x":6.56,"y":4.22},
{"s":"E26","x":5.146,"y":3.10},{"s":"E26","x":5.5,"y":3.30},{"s":"E26","x":5.853,"y":3.55},{"s":"E26","x":6.207,"y":3.65},{"s":"E26","x":6.56,"y":3.65},
{"s":"E27","x":5.146,"y":3.10},{"s":"E27","x":5.5,"y":3.05},{"s":"E27","x":5.853,"y":3.15},{"s":"E27","x":6.207,"y":3.32},{"s":"E27","x":6.56,"y":3.43},
{"s":"E28","x":5.146,"y":2.87},{"s":"E28","x":5.5,"y":3.05},{"s":"E28","x":5.853,"y":3.15},{"s":"E28","x":6.207,"y":3.20},{"s":"E28","x":6.56,"y":3.20},
{"s":"E29","x":5.146,"y":3.10},{"s":"E29","x":5.5,"y":3.00},{"s":"E29","x":5.853,"y":2.98},{"s":"E29","x":6.207,"y":3.10},{"s":"E29","x":6.56,"y":3.20},
{"s":"E30","x":5.146,"y":2.87},{"s":"E30","x":5.5,"y":2.75},{"s":"E30","x":5.853,"y":2.72},{"s":"E30","x":6.207,"y":2.85},{"s":"E30","x":6.56,"y":2.95},
{"s":"E31","x":5.146,"y":2.59},{"s":"E31","x":5.5,"y":2.62},{"s":"E31","x":5.853,"y":2.75},{"s":"E31","x":6.207,"y":2.88},{"s":"E31","x":6.56,"y":2.95},
{"s":"E32","x":5.146,"y":2.59},{"s":"E32","x":5.5,"y":2.55},{"s":"E32","x":5.853,"y":2.50},{"s":"E32","x":6.207,"y":2.52},{"s":"E32","x":6.56,"y":2.56},
{"s":"E34","x":5.146,"y":2.30},{"s":"E34","x":5.5,"y":2.20},{"s":"E34","x":5.853,"y":2.00},{"s":"E34","x":6.207,"y":1.80},{"s":"E34","x":6.56,"y":1.65},
{"s":"E35","x":5.146,"y":1.85},{"s":"E35","x":5.5,"y":1.80},{"s":"E35","x":5.853,"y":1.72},{"s":"E35","x":6.207,"y":1.63},{"s":"E35","x":6.56,"y":1.65},
{"s":"E36","x":5.146,"y":1.85},{"s":"E36","x":5.5,"y":1.58},{"s":"E36","x":5.853,"y":1.28},{"s":"E36","x":6.207,"y":1.12},{"s":"E36","x":6.56,"y":1.17},
{"s":"E37","x":5.146,"y":2.30},{"s":"E37","x":5.5,"y":2.35},{"s":"E37","x":5.853,"y":2.40},{"s":"E37","x":6.207,"y":2.48},{"s":"E37","x":6.56,"y":2.56}
],
"side":[
{"s":"F1","x":0,"y":8.50},{"s":"F1","x":0.25,"y":8.52},{"s":"F1","x":0.5,"y":8.51},{"s":"F1","x":0.75,"y":8.50},{"s":"F1","x":1,"y":8.48},
{"s":"F2","x":0,"y":8.50},{"s":"F2","x":0.25,"y":8.44},{"s":"F2","x":0.5,"y":8.35},{"s":"F2","x":0.75,"y":8.25},{"s":"F2","x":1,"y":8.19},
{"s":"F3","x":0,"y":7.87},{"s":"F3","x":0.25,"y":7.91},{"s":"F3","x":0.5,"y":7.96},{"s":"F3","x":0.75,"y":8.02},{"s":"F3","x":1,"y":8.07},
{"s":"F4","x":0,"y":7.87},{"s":"F4","x":0.25,"y":7.82},{"s":"F4","x":0.5,"y":7.75},{"s":"F4","x":0.75,"y":7.69},{"s":"F4","x":1,"y":7.66},
{"s":"F5","x":0,"y":6.78},{"s":"F5","x":0.25,"y":6.84},{"s":"F5","x":0.5,"y":6.90},{"s":"F5","x":0.75,"y":6.93},{"s":"F5","x":1,"y":6.95},
{"s":"F6","x":0,"y":6.78},{"s":"F6","x":0.25,"y":6.72},{"s":"F6","x":0.5,"y":6.78},{"s":"F6","x":0.75,"y":6.93},{"s":"F6","x":1,"y":7.02},
{"s":"F7","x":0,"y":6.29},{"s":"F7","x":0.25,"y":6.42},{"s":"F7","x":0.5,"y":6.58},{"s":"F7","x":0.75,"y":6.72},{"s":"F7","x":1,"y":6.77},
{"s":"F8","x":0,"y":6.29},{"s":"F8","x":0.25,"y":6.27},{"s":"F8","x":0.5,"y":6.40},{"s":"F8","x":0.75,"y":6.53},{"s":"F8","x":1,"y":6.58},
{"s":"F9","x":0,"y":6.10},{"s":"F9","x":0.25,"y":6.14},{"s":"F9","x":0.5,"y":6.05},{"s":"F9","x":0.75,"y":5.92},{"s":"F9","x":1,"y":5.83},
{"s":"F10","x":0,"y":6.10},{"s":"F10","x":0.25,"y":6.00},{"s":"F10","x":0.5,"y":5.97},{"s":"F10","x":0.75,"y":6.01},{"s":"F10","x":1,"y":6.02},
{"s":"F11","x":0,"y":5.57},{"s":"F11","x":0.25,"y":5.62},{"s":"F11","x":0.5,"y":5.60},{"s":"F11","x":0.75,"y":5.57},{"s":"F11","x":1,"y":5.57},
{"s":"F12","x":0,"y":5.57},{"s":"F12","x":0.25,"y":5.47},{"s":"F12","x":0.5,"y":5.35},{"s":"F12","x":0.75,"y":5.29},{"s":"F12","x":1,"y":5.28},
{"s":"F13","x":0,"y":5.38},{"s":"F13","x":0.25,"y":5.30},{"s":"F13","x":0.5,"y":5.15},{"s":"F13","x":0.75,"y":5.07},{"s":"F13","x":1,"y":5.05},
{"s":"F14","x":0,"y":5.38},{"s":"F14","x":0.25,"y":5.34},{"s":"F14","x":0.5,"y":5.20},{"s":"F14","x":0.75,"y":4.95},{"s":"F14","x":1,"y":4.74},
{"s":"F15","x":0,"y":4.77},{"s":"F15","x":0.25,"y":4.85},{"s":"F15","x":0.5,"y":4.90},{"s":"F15","x":0.75,"y":4.90},{"s":"F15","x":1,"y":4.90},
{"s":"F16","x":0,"y":4.77},{"s":"F16","x":0.25,"y":4.65},{"s":"F16","x":0.5,"y":4.58},{"s":"F16","x":0.75,"y":4.56},{"s":"F16","x":1,"y":4.55},
{"s":"F17","x":0,"y":4.35},{"s":"F17","x":0.25,"y":4.40},{"s":"F17","x":0.5,"y":4.48},{"s":"F17","x":0.75,"y":4.54},{"s":"F17","x":1,"y":4.57},
{"s":"F18","x":0,"y":4.35},{"s":"F18","x":0.25,"y":4.35},{"s":"F18","x":0.5,"y":4.35},{"s":"F18","x":0.75,"y":4.38},{"s":"F18","x":1,"y":4.43},
{"s":"F19","x":0,"y":4.24},{"s":"F19","x":0.25,"y":4.20},{"s":"F19","x":0.5,"y":4.17},{"s":"F19","x":0.75,"y":4.14},{"s":"F19","x":1,"y":4.13},
{"s":"F20","x":0,"y":4.24},{"s":"F20","x":0.25,"y":4.16},{"s":"F20","x":0.5,"y":4.09},{"s":"F20","x":0.75,"y":4.05},{"s":"F20","x":1,"y":4.04},
{"s":"F21","x":0,"y":3.12},{"s":"F21","x":0.25,"y":3.21},{"s":"F21","x":0.5,"y":3.45},{"s":"F21","x":0.75,"y":3.71},{"s":"F21","x":1,"y":3.85},
{"s":"F22","x":0,"y":3.12},{"s":"F22","x":0.25,"y":3.05},{"s":"F22","x":0.5,"y":3.02},{"s":"F22","x":0.75,"y":2.99},{"s":"F22","x":1,"y":2.98},
{"s":"F23","x":0,"y":2.87},{"s":"F23","x":0.25,"y":3.06},{"s":"F23","x":0.5,"y":3.20},{"s":"F23","x":0.75,"y":3.27},{"s":"F23","x":1,"y":3.31},
{"s":"F24","x":0,"y":2.87},{"s":"F24","x":0.25,"y":2.76},{"s":"F24","x":0.5,"y":2.78},{"s":"F24","x":0.75,"y":2.83},{"s":"F24","x":1,"y":2.87},
{"s":"F25","x":0,"y":2.59},{"s":"F25","x":0.25,"y":2.64},{"s":"F25","x":0.5,"y":2.78},{"s":"F25","x":0.75,"y":2.92},{"s":"F25","x":1,"y":2.98},
{"s":"F26","x":0,"y":2.59},{"s":"F26","x":0.25,"y":2.54},{"s":"F26","x":0.5,"y":2.52},{"s":"F26","x":0.75,"y":2.52},{"s":"F26","x":1,"y":2.52},
{"s":"F27","x":0,"y":2.31},{"s":"F27","x":0.25,"y":2.40},{"s":"F27","x":0.5,"y":2.46},{"s":"F27","x":0.75,"y":2.50},{"s":"F27","x":1,"y":2.51},
{"s":"F28","x":0,"y":2.31},{"s":"F28","x":0.25,"y":2.32},{"s":"F28","x":0.5,"y":2.28},{"s":"F28","x":0.75,"y":2.22},{"s":"F28","x":1,"y":2.18},
{"s":"F29","x":0,"y":1.86},{"s":"F29","x":0.25,"y":1.79},{"s":"F29","x":0.5,"y":1.66},{"s":"F29","x":0.75,"y":1.55},{"s":"F29","x":1,"y":1.51},
{"s":"F30","x":0,"y":1.86},{"s":"F30","x":0.25,"y":1.76},{"s":"F30","x":0.5,"y":1.54},{"s":"F30","x":0.75,"y":1.38},{"s":"F30","x":1,"y":1.30}
]},
"hconcat":[
 {"width":1680,"height":1424,
  "layer":[
   {"data":{"values":[{}]},"mark":{"type":"rule","color":"blue","strokeWidth":2,"strokeDash":[2,4]},
    "encoding":{"x":{"datum":0,"type":"quantitative","scale":{"domain":[0,6.56],"nice":false,"zero":false},"axis":{"orient":"top","values":[0,1,2,3.414,5.146,6.56],"labels":false,"title":null}},
                "x2":{"datum":6.56},
                "y":{"datum":0,"type":"quantitative","scale":{"domain":[-0.43,9.0],"nice":false,"zero":false},"axis":{"orient":"right","values":[0,2,4,6,8],"labels":false,"title":null}}}},
   {"data":{"name":"main"},"mark":{"type":"line","color":"#ff0000","strokeWidth":5,"interpolate":"monotone","clip":true},
    "encoding":{
      "x":{"field":"x","type":"quantitative","scale":{"domain":[0,6.56],"nice":false,"zero":false},
           "axis":{"orient":"bottom","values":[0,1,2,3.414,5.146,6.56],"labelExpr":"datum.value < 0.5 ? 'Γ' : datum.value < 1.5 ? 'X' : datum.value < 2.5 ? 'M' : datum.value < 4 ? 'Γ' : datum.value < 6 ? 'R' : 'X'","title":null,"labelPadding":33}},
      "y":{"field":"y","type":"quantitative","scale":{"domain":[-0.43,9.0],"nice":false,"zero":false},
           "axis":{"orient":"left","values":[0,2,4,6,8],"title":"Frequency","labelPadding":37,"titlePadding":20}},
      "detail":{"field":"s","type":"nominal"}}}
  ],
  "resolve":{"axis":{"x":"independent","y":"independent"}}
 },
 {"width":256,"height":1424,
  "layer":[
   {"data":{"values":[{}]},"mark":{"type":"rule","color":"blue","strokeWidth":2,"strokeDash":[2,4]},
    "encoding":{"x":{"datum":0,"type":"quantitative","scale":{"domain":[0,1],"nice":false,"zero":false},"axis":{"orient":"top","values":[0,1],"labels":false,"title":null}},
                "x2":{"datum":1},
                "y":{"datum":0,"type":"quantitative","scale":{"domain":[-0.43,9.0],"nice":false,"zero":false},"axis":{"orient":"right","values":[0,2,4,6,8],"labels":false,"title":null}}}},
   {"data":{"name":"side"},"mark":{"type":"line","color":"#ff0000","strokeWidth":5,"interpolate":"monotone","clip":true},
    "encoding":{
      "x":{"field":"x","type":"quantitative","scale":{"domain":[0,1],"nice":false,"zero":false},
           "axis":{"orient":"bottom","values":[0,1],"labelExpr":"datum.value < 0.5 ? 'R' : 'M'","title":null,"labelPadding":33}},
      "y":{"field":"y","type":"quantitative","scale":{"domain":[-0.43,9.0],"nice":false,"zero":false},
           "axis":{"orient":"left","values":[0,2,4,6,8],"labels":false,"title":null}},
      "detail":{"field":"s","type":"nominal"}}}
  ],
  "resolve":{"axis":{"x":"independent","y":"independent"}}
 }
]
}
